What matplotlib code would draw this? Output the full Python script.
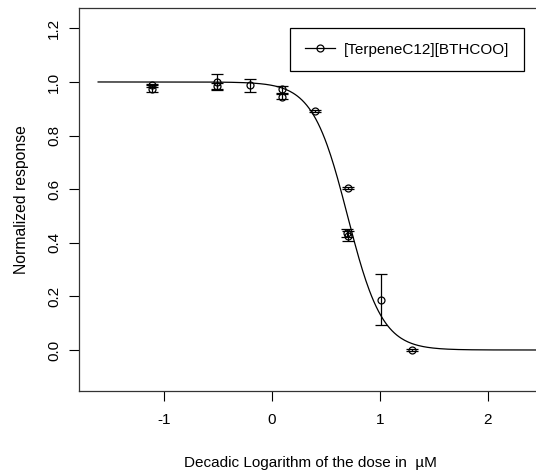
import numpy as np
import matplotlib
matplotlib.use("Agg")
import matplotlib.pyplot as plt
from matplotlib.lines import Line2D

plt.rcParams['font.family'] = ['Liberation Sans', 'DejaVu Sans']

# observed responses (log10 dose, mean, error bar half-width)
log_dose = [-1.11, -1.11, -0.51, -0.51, -0.20, 0.09, 0.09, 0.40, 0.70, 0.69, 0.70, 1.01, 1.30]
response = [0.988, 0.975, 1.000, 0.985, 0.988, 0.972, 0.945, 0.892, 0.606, 0.435, 0.425, 0.187, 0.0]
err = [0.006, 0.012, 0.030, 0.010, 0.024, 0.012, 0.010, 0.004, 0.004, 0.015, 0.020, 0.095, 0.003]

# fitted log-logistic model (slope, log10 EC50)
slope = 2.7
log_ec50 = 0.70
curve_start, curve_end = -1.61, 2.6

label = "[TerpeneC12][BTHCOO]"
xticks = [-1, 0, 1, 2]
yticks = [0.0, 0.2, 0.4, 0.6, 0.8, 1.0, 1.2]

fig = plt.figure(figsize=(5.36, 4.72), dpi=100)
ax = fig.add_axes([79 / 536, 1 - 391 / 472, (542 - 79) / 536, (391 - 8) / 472])

xs = np.linspace(curve_start, curve_end, 400)
ax.plot(xs, 1 / (1 + 10 ** (slope * (xs - log_ec50))), color='k', lw=0.9)

ax.errorbar(log_dose, response, yerr=err, fmt='o', mfc='none', mec='k',
            ms=5, mew=0.9, ecolor='k', elinewidth=0.9, capsize=4, capthick=0.9)

ax.set_xlim(-1.787, 2.50)
ax.set_ylim(-0.153, 1.276)
ax.set_xticks(xticks)
ax.set_xticklabels([str(t) for t in xticks])
ax.set_yticks(yticks)
ax.set_yticklabels([f"{t:.1f}" for t in yticks], rotation=90, va='center')
ax.tick_params(axis='x', direction='out', length=7, width=0.8, labelsize=11, pad=9)
ax.tick_params(axis='y', direction='out', length=7, width=0.8, labelsize=11, pad=6)
for s in ax.spines.values():
    s.set_linewidth(0.9)
    s.set_color('#333333')

ax.set_xlabel("Decadic Logarithm of the dose in  \u00b5M", fontsize=11, labelpad=21)
ax.set_ylabel("Normalized response", fontsize=11.3, labelpad=13)

handle = Line2D([], [], color='k', lw=0.9, marker='o', mfc='none', ms=5, mew=0.9)
leg = ax.legend([handle], [label], loc='upper left',
                bbox_to_anchor=(290 / 536, 1 - 28 / 472), bbox_transform=fig.transFigure,
                borderaxespad=0, fancybox=False, framealpha=1, edgecolor='k',
                fontsize=11, handlelength=2.0, borderpad=0.95, handletextpad=0.6)
leg.get_frame().set_linewidth(0.9)

fig.savefig("out.png", dpi=100)
